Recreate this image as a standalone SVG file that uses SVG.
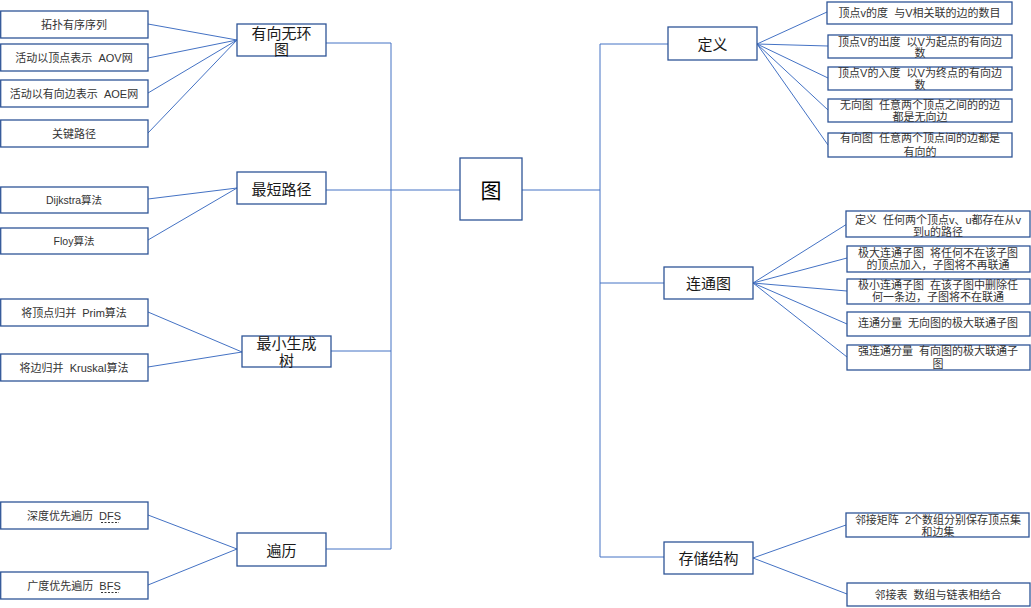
<svg xmlns="http://www.w3.org/2000/svg" width="1031" height="608" viewBox="0 0 1031 608" xml:space="preserve">
<style>
.box{fill:#fff;stroke:#2F5597;stroke-width:1.3}
.c{fill:none;stroke:#4472C4;stroke-width:1}
text{font-family:"Liberation Sans","Noto Sans CJK SC",sans-serif;fill:#333;text-anchor:middle;white-space:pre}
.s{font-size:11px}
.m{font-size:15px;fill:#1a1a1a}
.big{font-size:21px;fill:#000}
.dash{stroke:#333;stroke-width:1;stroke-dasharray:2 1.5}
</style>
<rect width="1031" height="608" fill="#fff"/>
<g id="connectors">
<path class="c" d="M148,24 L237,40 M148,58 L237,40 M148,93 L237,40 M148,133 L237,40"/>
<path class="c" d="M148,199 L237,188 M148,240 L237,188"/>
<path class="c" d="M148,312 L242,352 M148,367 L242,352"/>
<path class="c" d="M148,515 L237,549 M148,585 L237,549"/>
<path class="c" d="M326,43 H391 V549 H326 M326,190 H460 M331,351 H391"/>
<path class="c" d="M522,190 H600 M668,44 H600 V557 H664 M600,283 H664"/>
<path class="c" d="M757,44 L827,12 M757,44 L828,46 M757,44 L828,78 M757,44 L828,110 M757,44 L828,145"/>
<path class="c" d="M753,283 L847,224 M753,283 L847,258 M753,283 L847,291 M753,283 L847,324 M753,283 L847,357"/>
<path class="c" d="M753,558 L846,525 M753,558 L847,594"/>
</g>
<g id="n-tu"><rect class="box" x="460" y="158" width="62" height="62"/><text class="big" x="491" y="197.5">图</text></g>
<g id="n-dag"><rect class="box" x="237" y="24" width="89" height="32"/><text class="m" x="281.5" y="38.5">有向无环</text><text class="m" x="281.5" y="55">图</text></g>
<g id="n-topo"><rect class="box" x="0.7" y="11" width="147.3" height="27"/><text class="s" x="74" y="28.5">拓扑有序序列</text></g>
<g id="n-aov"><rect class="box" x="0.7" y="44" width="147.3" height="27"/><text class="s" x="74" y="61.5">活动以顶点表示  AOV网</text></g>
<g id="n-aoe"><rect class="box" x="0.7" y="80" width="147.3" height="27"/><text class="s" x="74" y="97.5">活动以有向边表示  AOE网</text></g>
<g id="n-crit"><rect class="box" x="0.7" y="120" width="147.3" height="27"/><text class="s" x="74" y="137.5">关键路径</text></g>
<g id="n-sp"><rect class="box" x="237" y="172" width="89" height="32"/><text class="m" x="281.5" y="194.5">最短路径</text></g>
<g id="n-dij"><rect class="box" x="0.7" y="187" width="147.3" height="26"/><text class="s" x="74" y="204" style="font-size:10.5px">Dijkstra算法</text></g>
<g id="n-floy"><rect class="box" x="0.7" y="228" width="147.3" height="26"/><text class="s" x="74" y="245" style="font-size:10.5px">Floy算法</text></g>
<g id="n-mst"><rect class="box" x="242" y="336" width="89" height="31"/><text class="m" x="286.5" y="348.5">最小生成</text><text class="m" x="286.5" y="365.5">树</text></g>
<g id="n-prim"><rect class="box" x="0.7" y="299" width="147.3" height="27"/><text class="s" x="74" y="316.5">将顶点归并  Prim算法</text></g>
<g id="n-krus"><rect class="box" x="0.7" y="354" width="147.3" height="27"/><text class="s" x="74" y="371.5">将边归并  Kruskal算法</text></g>
<g id="n-trav"><rect class="box" x="237" y="533" width="89" height="33"/><text class="m" x="281.5" y="556">遍历</text></g>
<g id="n-dfs"><rect class="box" x="0.7" y="502" width="147.3" height="27"/><text class="s" x="74" y="519.5">深度优先遍历  DFS</text><line class="dash" x1="101" y1="522.5" x2="119" y2="522.5"/></g>
<g id="n-bfs"><rect class="box" x="0.7" y="572" width="147.3" height="27"/><text class="s" x="74" y="589.5">广度优先遍历  BFS</text><line class="dash" x1="101" y1="592.5" x2="119" y2="592.5"/></g>
<g id="n-def"><rect class="box" x="668" y="27" width="89" height="33"/><text class="m" x="712.5" y="49.5">定义</text></g>
<g id="n-deg"><rect class="box" x="827" y="2" width="185" height="22"/><text class="s" x="919.5" y="17">顶点v的度  与V相关联的边的数目</text></g>
<g id="n-out"><rect class="box" x="828" y="35" width="184" height="23"/><text class="s" x="920" y="46">顶点V的出度  以V为起点的有向边</text><text class="s" x="920" y="57">数</text></g>
<g id="n-in"><rect class="box" x="828" y="67" width="184" height="23"/><text class="s" x="920" y="76.5">顶点V的入度  以V为终点的有向边</text><text class="s" x="920" y="88.5">数</text></g>
<g id="n-ug"><rect class="box" x="828" y="99" width="184" height="23"/><text class="s" x="920" y="109">无向图  任意两个顶点之间的的边</text><text class="s" x="920" y="121">都是无向边</text></g>
<g id="n-dg"><rect class="box" x="828" y="133" width="184" height="24"/><text class="s" x="920" y="142">有向图  任意两个顶点间的边都是</text><text class="s" x="920" y="155.5">有向的</text></g>
<g id="n-conn"><rect class="box" x="664" y="267" width="89" height="32"/><text class="m" x="708.5" y="288.5">连通图</text></g>
<g id="n-cdef"><rect class="box" x="846" y="211" width="184" height="26"/><text class="s" x="938" y="224">定义  任何两个顶点v、u都存在从v</text><text class="s" x="938" y="236">到u的路径</text></g>
<g id="n-max"><rect class="box" x="847" y="246" width="183" height="26"/><text class="s" x="938" y="257">极大连通子图  将任何不在该子图</text><text class="s" x="938" y="269">的顶点加入，子图将不再联通</text></g>
<g id="n-min"><rect class="box" x="847" y="279" width="183" height="25"/><text class="s" x="938" y="289">极小连通子图  在该子图中删除任</text><text class="s" x="938" y="301">何一条边，子图将不在联通</text></g>
<g id="n-cc"><rect class="box" x="847" y="312" width="183" height="24"/><text class="s" x="938" y="327">连通分量  无向图的极大联通子图</text></g>
<g id="n-scc"><rect class="box" x="847" y="345" width="183" height="25"/><text class="s" x="938" y="355">强连通分量  有向图的极大联通子</text><text class="s" x="938" y="368">图</text></g>
<g id="n-store"><rect class="box" x="664" y="542" width="89" height="32"/><text class="m" x="708.5" y="563.5">存储结构</text></g>
<g id="n-mat"><rect class="box" x="846" y="513" width="183" height="24"/><text class="s" x="938" y="524">邻接矩阵  2个数组分别保存顶点集</text><text class="s" x="938" y="536">和边集</text></g>
<g id="n-list"><rect class="box" x="847" y="583" width="183" height="23"/><text class="s" x="938" y="599">邻接表  数组与链表相结合</text></g>
</svg>
